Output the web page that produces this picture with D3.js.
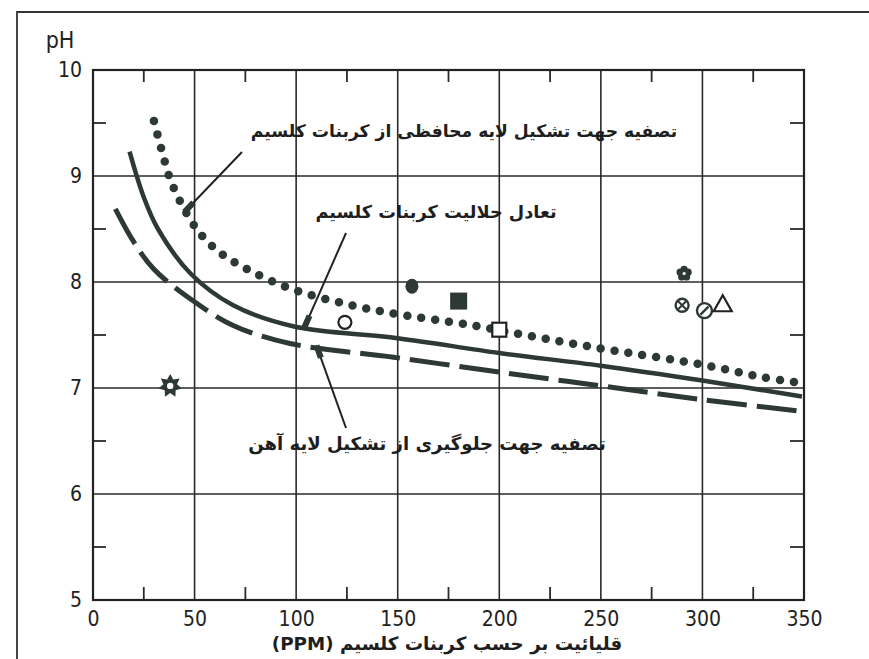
<!DOCTYPE html>
<html>
<head>
<meta charset="utf-8">
<script src="https://cdn.jsdelivr.net/npm/d3@7/dist/d3.min.js"></script>
<style>
  body { margin: 0; background: #fff; }
  .tick text { font-family: "DejaVu Sans Condensed", "DejaVu Sans", sans-serif; font-size: 21px; fill: #222; }
  .label { font-family: "DejaVu Sans", sans-serif; font-weight: bold; fill: #1e1e1e; }
</style>
</head>
<body>
<div id="chart"></div>
<script>
// axis ticks
var xTicks = [0, 50, 100, 150, 200, 250, 300, 350];
var yTicks = [5, 6, 7, 8, 9, 10];
var xMinor = [25, 75, 125, 175, 225, 275, 325];
var yMinor = [5.5, 6.5, 7.5, 8.5, 9.5];

// curves: [alkalinity ppm, pH]
var protective = [[30,9.52],[34,9.23],[38,8.97],[44,8.72],[51,8.50],[58,8.35],[66,8.23],[78,8.10],[97,7.94],[125,7.79],[152,7.69],[184,7.60],[221,7.47],[251,7.37],[300,7.22],[330,7.10],[348,7.05]];
var equilibrium = [[18,9.23],[25,8.80],[32,8.50],[48,8.08],[69,7.78],[99,7.58],[150,7.47],[200,7.33],[250,7.21],[300,7.07],[349,6.92]];
var ironLayer = [[11,8.69],[20,8.38],[30,8.12],[48,7.84],[69,7.59],[97,7.42],[148,7.29],[200,7.15],[250,7.02],[300,6.89],[349,6.78]];

// individual samples
var samples = [
  {x: 157, y: 7.96, type: "dot"},
  {x: 180, y: 7.82, type: "square"},
  {x: 124, y: 7.62, type: "ring"},
  {x: 200, y: 7.55, type: "box"},
  {x: 38,  y: 7.02, type: "star"},
  {x: 291, y: 8.08, type: "flower"},
  {x: 290, y: 7.78, type: "cross"},
  {x: 301, y: 7.73, type: "slash"},
  {x: 310, y: 7.79, type: "triangle"}
];

var labels = [
  {text: "تصفیه جهت تشکیل لایه محافظی از کربنات کلسیم", cx: 464, y: 137, w: 428},
  {text: "تعادل حلالیت کربنات کلسیم", cx: 436, y: 218, w: 241},
  {text: "تصفیه جهت جلوگیری از تشکیل لایه آهن", cx: 427, y: 450, w: 358}
];

var ink = "#2d3935";

var svg = d3.select("#chart").append("svg")
    .attr("width", 869)
    .attr("height", 659);

var x = d3.scaleLinear().domain([0, 350]).range([93, 804]);
var y = d3.scaleLinear().domain([5, 10]).range([600, 70]);

// outer border
svg.append("path")
    .attr("d", "M17,659 L17,12 L869,12")
    .attr("fill", "none")
    .attr("stroke", "#333")
    .attr("stroke-width", 1.8);

// gridlines
svg.append("g")
    .selectAll("line.v")
    .data(xTicks.slice(1, -1))
  .enter().append("line")
    .attr("x1", function(d) { return x(d); })
    .attr("x2", function(d) { return x(d); })
    .attr("y1", y(10)).attr("y2", y(5))
    .attr("stroke", "#2a2a2a").attr("stroke-width", 1.6);

svg.append("g")
    .selectAll("line.h")
    .data(yTicks.slice(1, -1))
  .enter().append("line")
    .attr("x1", x(0)).attr("x2", x(350))
    .attr("y1", function(d) { return y(d); })
    .attr("y2", function(d) { return y(d); })
    .attr("stroke", "#2a2a2a").attr("stroke-width", 1.6);

// minor ticks inside the frame
var tk = svg.append("g").attr("stroke", "#2a2a2a").attr("stroke-width", 1.8);
xMinor.forEach(function(d) {
  tk.append("line").attr("x1", x(d)).attr("x2", x(d)).attr("y1", y(10)).attr("y2", y(10) + 12);
  tk.append("line").attr("x1", x(d)).attr("x2", x(d)).attr("y1", y(5)).attr("y2", y(5) - 13);
});
yMinor.forEach(function(d) {
  tk.append("line").attr("x1", x(0)).attr("x2", x(0) + 13).attr("y1", y(d)).attr("y2", y(d));
  tk.append("line").attr("x1", x(350)).attr("x2", x(350) - 14).attr("y1", y(d)).attr("y2", y(d));
});

// frame
svg.append("rect")
    .attr("x", x(0)).attr("y", y(10))
    .attr("width", x(350) - x(0)).attr("height", y(5) - y(10))
    .attr("fill", "none").attr("stroke", "#222").attr("stroke-width", 2.2);

// axes (labels only)
var xAxis = svg.append("g")
    .attr("transform", "translate(0," + (y(5) + 8) + ")")
    .call(d3.axisBottom(x).tickValues(xTicks).tickSize(0).tickFormat(d3.format("d")));
xAxis.select(".domain").remove();

var yAxis = svg.append("g")
    .attr("transform", "translate(" + (x(0) - 8) + ",0)")
    .call(d3.axisLeft(y).tickValues(yTicks).tickSize(0).tickFormat(d3.format("d")));
yAxis.select(".domain").remove();

svg.append("text")
    .attr("x", 60).attr("y", 48)
    .attr("text-anchor", "middle")
    .style("font-family", "DejaVu Sans Condensed, DejaVu Sans, sans-serif")
    .style("font-size", "23px")
    .style("fill", "#222")
    .text("pH");

// curves
var line = d3.line()
    .x(function(d) { return x(d[0]); })
    .y(function(d) { return y(d[1]); })
    .curve(d3.curveCatmullRom.alpha(0.5));

svg.append("path")
    .datum(equilibrium)
    .attr("d", line)
    .attr("fill", "none").attr("stroke", ink).attr("stroke-width", 4.5);

svg.append("path")
    .datum(ironLayer)
    .attr("d", line)
    .attr("fill", "none").attr("stroke", ink).attr("stroke-width", 5)
    .attr("stroke-dasharray", "40,10");

svg.append("path")
    .datum(protective)
    .attr("d", line)
    .attr("fill", "none").attr("stroke", ink).attr("stroke-width", 8.5)
    .attr("stroke-linecap", "round")
    .attr("stroke-dasharray", "0,14");

// pointer lines from the labels to the curves, thick stub at the curve end
function pointer(x1, y1, x2, y2) {
  svg.append("line")
      .attr("x1", x1).attr("y1", y1).attr("x2", x2).attr("y2", y2)
      .attr("stroke", "#222").attr("stroke-width", 2);
  var dx = x2 - x1, dy = y2 - y1, len = Math.sqrt(dx * dx + dy * dy);
  svg.append("line")
      .attr("x1", x2).attr("y1", y2)
      .attr("x2", x2 - dx / len * 13).attr("y2", y2 - dy / len * 13)
      .attr("stroke", ink).attr("stroke-width", 6);
}
pointer(242, 152, x(45), y(8.66));
pointer(346, 233, x(104), y(7.57));
pointer(346, 428, x(110), y(7.40));

// samples
var g = svg.append("g");
samples.forEach(function(p) {
  var cx = x(p.x), cy = y(p.y);
  var m = g.append("g").attr("transform", "translate(" + cx + "," + cy + ")");
  if (p.type === "dot") {
    m.append("ellipse").attr("rx", 6.5).attr("ry", 7.5).attr("fill", ink);
  } else if (p.type === "square") {
    m.append("rect").attr("x", -8.5).attr("y", -8.5).attr("width", 17).attr("height", 17).attr("fill", ink);
  } else if (p.type === "ring") {
    m.append("circle").attr("r", 6.5).attr("fill", "#fff").attr("stroke", "#222").attr("stroke-width", 2.2);
  } else if (p.type === "box") {
    m.append("rect").attr("x", -7).attr("y", -7).attr("width", 14).attr("height", 14)
        .attr("fill", "#fff").attr("stroke", "#222").attr("stroke-width", 2.2);
  } else if (p.type === "star") {
    var pts = [];
    for (var i = 0; i < 14; i++) {
      var a = -Math.PI / 2 + i * Math.PI / 7, r = i % 2 ? 7 : 12;
      pts.push([r * Math.cos(a), r * Math.sin(a)]);
    }
    m.append("path").attr("d", "M" + pts.join("L") + "Z").attr("fill", ink);
    m.append("circle").attr("r", 3.2).attr("fill", "#fff");
  } else if (p.type === "flower") {
    [0, 1, 2, 3, 4].forEach(function(k) {
      var a = -Math.PI / 2 + k * 2 * Math.PI / 5;
      m.append("circle").attr("cx", 4.2 * Math.cos(a)).attr("cy", 4.2 * Math.sin(a))
          .attr("r", 3.6).attr("fill", ink);
    });
    m.append("circle").attr("r", 1.6).attr("fill", "#fff");
  } else if (p.type === "cross") {
    m.append("circle").attr("r", 6.5).attr("fill", "#fff").attr("stroke", ink).attr("stroke-width", 2.4);
    m.append("path").attr("d", "M-4,-4L4,4M-4,4L4,-4").attr("stroke", ink).attr("stroke-width", 2);
  } else if (p.type === "slash") {
    m.append("circle").attr("r", 7.5).attr("fill", "#fff").attr("stroke", ink).attr("stroke-width", 2.4);
    m.append("path").attr("d", "M-4,4L4,-4").attr("stroke", ink).attr("stroke-width", 2.4);
  } else if (p.type === "triangle") {
    m.append("path").attr("d", "M0,-9L9,7L-9,7Z")
        .attr("fill", "#fff").attr("stroke", "#222").attr("stroke-width", 2.2);
  }
});

// curve labels, sized to the widths seen in the picture
labels.forEach(function(l) {
  var t = svg.append("text")
      .attr("class", "label")
      .attr("x", l.cx).attr("y", l.y)
      .attr("text-anchor", "middle")
      .attr("direction", "rtl")
      .style("font-size", "18px")
      .text(l.text);
  var w = t.node().getComputedTextLength();
  if (w > 0) t.style("font-size", (18 * l.w / w).toFixed(1) + "px");
});

// axis title
var xt = svg.append("text")
    .attr("class", "label")
    .attr("x", 447).attr("y", 650)
    .attr("text-anchor", "middle")
    .attr("direction", "rtl")
    .style("font-size", "16px")
    .text("قلیائیت بر حسب کربنات کلسیم (PPM)");
var xw = xt.node().getComputedTextLength();
if (xw > 0) xt.style("font-size", (16 * 350 / xw).toFixed(1) + "px");
</script>
</body>
</html>
